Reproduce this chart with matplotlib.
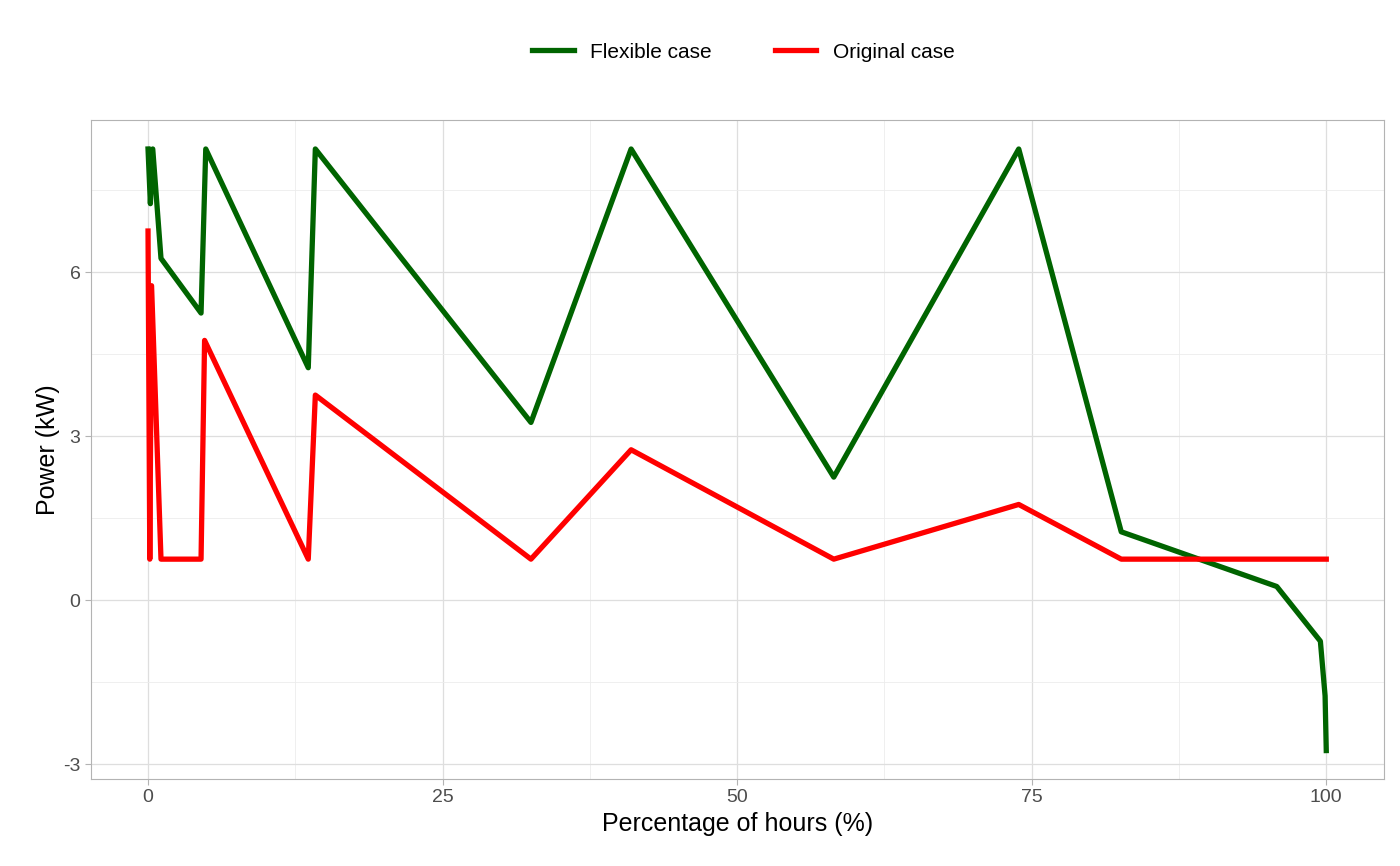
import matplotlib.pyplot as plt
from matplotlib.ticker import MultipleLocator

flex_x = [0, 0.2, 0.4, 1.1, 4.5, 4.9, 13.6, 14.2, 32.5, 41.0, 58.2, 73.9, 82.6, 95.8, 99.5, 99.9, 100]
flex_y = [8.25, 7.25, 8.25, 6.25, 5.25, 8.25, 4.25, 8.25, 3.25, 8.25, 2.25, 8.25, 1.25, 0.25, -0.75, -1.75, -2.75]
orig_x = [0, 0.15, 0.3, 1.1, 4.5, 4.8, 13.6, 14.2, 32.5, 41.0, 58.2, 73.9, 82.6, 100]
orig_y = [6.75, 0.75, 5.75, 0.75, 0.75, 4.75, 0.75, 3.75, 0.75, 2.75, 0.75, 1.75, 0.75, 0.75]

plt.rcParams['font.family'] = ['Liberation Sans', 'DejaVu Sans']
plt.rcParams['axes.unicode_minus'] = False
fig = plt.figure(figsize=(14, 8.66), dpi=100)
ax = fig.add_axes([91/1400, 1-779/866, (1384-91)/1400, (779-120)/866])

ax.plot(flex_x, flex_y, color='#006400', lw=3.8, label='Flexible case', solid_joinstyle='round')
ax.plot(orig_x, orig_y, color='#ff0000', lw=3.8, label='Original case', solid_joinstyle='round')

ax.set_xlim(-4.84, 104.9)
ax.set_ylim(-3.27, 8.78)
ax.xaxis.set_major_locator(MultipleLocator(25))
ax.xaxis.set_minor_locator(MultipleLocator(12.5))
ax.yaxis.set_major_locator(MultipleLocator(3))
ax.yaxis.set_minor_locator(MultipleLocator(1.5))
ax.grid(which='major', color='#dedede', lw=0.9)
ax.grid(which='minor', color='#ececec', lw=0.6)
ax.set_axisbelow(True)
for s in ax.spines.values():
    s.set_color('#b3b3b3')
ax.tick_params(which='both', length=4, color='#b3b3b3', labelsize=14, labelcolor='#4d4d4d')
ax.tick_params(which='minor', length=0)
ax.set_xlabel('Percentage of hours (%)', fontsize=18, labelpad=4)
ax.set_ylabel('Power (kW)', fontsize=18, labelpad=2)

fig.legend(loc='center', bbox_to_anchor=(0.531, 1-52/866), ncol=2, frameon=False,
           fontsize=15, handlelength=2.0, columnspacing=3)
fig.savefig('out.png', dpi=100)
